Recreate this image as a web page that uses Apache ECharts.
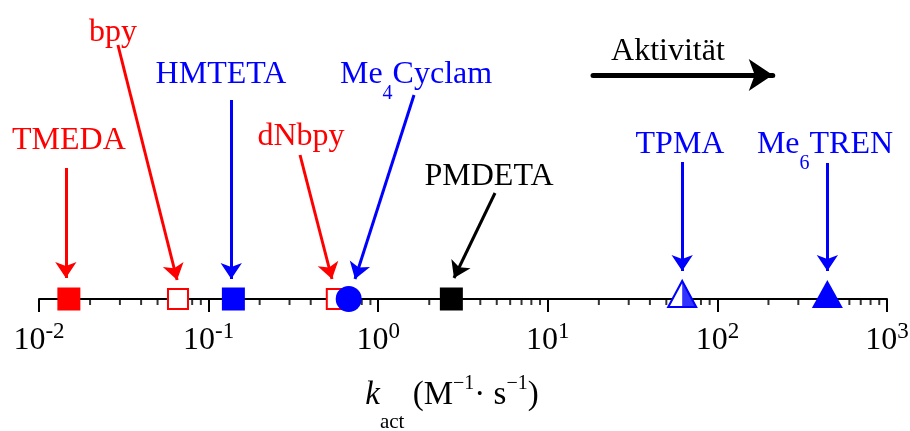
<!DOCTYPE html>
<html><head><meta charset="utf-8">
<script src="https://cdn.jsdelivr.net/npm/echarts@6/dist/echarts.min.js"></script>
<style>html,body{margin:0;padding:0;background:#fff}#c{width:910px;height:431px}</style>
</head><body><div id="c"></div>
<script>
// ---------------- data ----------------
const ligands = ['TMEDA', 'bpy', 'HMTETA', 'dNbpy', 'Me4Cyclam', 'PMDETA', 'TPMA', 'Me6TREN'];
const kact = [0.015, 0.066, 0.14, 0.57, 0.67, 2.7, 62, 445];
const tickExponents = [-2, -1, 0, 1, 2, 3];
const tickLabels = ['-2', '-1', '0', '1', '2', '3'];
const minorMantissas = [2, 3, 4, 5, 6, 7, 8, 9];
const minorDecades = [-2, -1, 0, 1, 2];
const activityText = 'Aktivität';

// ---------------- styles / layout ----------------
const RED = '#ff0000', BLUE = '#0000ff', BLACK = '#000000';
const FONT = '"Liberation Serif", "Times New Roman", serif';

const ligandColor = {TMEDA: RED, bpy: RED, HMTETA: BLUE, dNbpy: RED, Me4Cyclam: BLUE, PMDETA: BLACK, TPMA: BLUE, Me6TREN: BLUE};
const ligandRich = {
  TMEDA: '{m|TMEDA}', bpy: '{m|bpy}', HMTETA: '{m|HMTETA}', dNbpy: '{m|dNbpy}',
  Me4Cyclam: '{m|Me}{sub|4}{m|Cyclam}', PMDETA: '{m|PMDETA}', TPMA: '{m|TPMA}', Me6TREN: '{m|Me}{sub|6}{m|TREN}'
};
// label anchor: [x value, height above axis]
const labelPos = {
  TMEDA: [0.015, 158], bpy: [0.0273, 266], HMTETA: [0.1183, 224], dNbpy: [0.3506, 162],
  Me4Cyclam: [1.671, 224], PMDETA: [4.501, 122], TPMA: [60.2, 154], Me6TREN: [430.9, 154]
};
const activityPos = [51.1, 247];
// arrows: [start, tip]  (x value, height above axis)
const arrowPos = {
  TMEDA: [[0.0144, 131], [0.0144, 21]],
  bpy: [[0.0292, 254], [0.0652, 19]],
  HMTETA: [[0.136, 199], [0.136, 20]],
  dNbpy: [[0.346, 144], [0.534, 20]],
  Me4Cyclam: [[1.626, 204], [0.730, 20]],
  PMDETA: [[4.883, 106], [2.798, 21]],
  TPMA: [[62, 137], [62, 28]],
  Me6TREN: [[445, 136], [445, 28]]
};
const activityArrow = [[18.48, 224], [212, 224]];

const markerStyle = {
  TMEDA: {symbol: 'rect', size: 23, fill: RED},
  bpy: {symbol: 'rect', size: 20, fill: '#ffffff', border: RED},
  HMTETA: {symbol: 'rect', size: 23, fill: BLUE},
  dNbpy: {symbol: 'rect', size: 20, fill: '#ffffff', border: RED},
  Me4Cyclam: {symbol: 'circle', size: 26, fill: BLUE},
  PMDETA: {symbol: 'rect', size: 23, fill: BLACK},
  TPMA: {symbol: 'triangle', size: [28, 26], fill: '#ffffff', border: BLUE, offset: [0, -5]},
  Me6TREN: {symbol: 'triangle', size: [31, 28], fill: BLUE, offset: [0, -5]}
};

function labelRich(color) {
  return {
    m: {fontSize: 32, fontFamily: FONT, color: color, lineHeight: 40, height: 40, verticalAlign: 'top'},
    sub: {fontSize: 20, fontFamily: FONT, color: color, lineHeight: 2, height: 2, verticalAlign: 'bottom'}
  };
}

// ---------------- build ----------------
const series = [];

// minor ticks
const minorTicks = [];
minorDecades.forEach(d => minorMantissas.forEach(m => minorTicks.push([m * Math.pow(10, d), 0])));
series.push({
  type: 'scatter', data: minorTicks, symbol: 'rect', symbolSize: [2, 6], symbolOffset: [0, 3],
  itemStyle: {color: BLACK}, silent: true, clip: false, z: 1
});

// markers
ligands.forEach((name, i) => {
  const s = markerStyle[name];
  series.push({
    type: 'scatter', name: name, data: [[kact[i], 0]], symbol: s.symbol, symbolSize: s.size,
    symbolOffset: s.offset || [0, 0], clip: false, silent: true, z: 5 + i,
    itemStyle: {color: s.fill, borderColor: s.border || s.fill, borderWidth: s.border ? 2 : 0, opacity: 1}
  });
  if (name === 'TPMA') {
    series.push({
      type: 'scatter', data: [[kact[i], 0]], symbol: 'path://M0,0L10,20L0,20Z',
      symbolSize: [15, 28], symbolOffset: [7.5, -5], clip: false, silent: true, z: 20,
      itemStyle: {color: BLUE}
    });
  }
});

// arrows, grouped by colour
[RED, BLUE, BLACK].forEach(col => {
  const names = ligands.filter(n => ligandColor[n] === col);
  series.push({
    type: 'lines', coordinateSystem: 'cartesian2d', symbol: ['none', 'arrow'], symbolSize: 16,
    silent: true, z: 4,
    lineStyle: {color: col, width: 3, opacity: 1, curveness: 0},
    data: names.map(n => ({coords: arrowPos[n]}))
  });
});
series.push({
  type: 'lines', coordinateSystem: 'cartesian2d', symbol: ['none', 'arrow'], symbolSize: 24,
  silent: true, z: 4,
  lineStyle: {color: BLACK, width: 5, opacity: 1, curveness: 0, cap: 'round'},
  data: [{coords: activityArrow}]
});

// text labels
const labelData = ligands.map(n => ({
  value: labelPos[n],
  label: {show: true, position: 'inside', formatter: ligandRich[n], color: ligandColor[n],
          textBorderWidth: 0, opacity: 1, rich: labelRich(ligandColor[n])}
}));
labelData.push({
  value: activityPos,
  label: {show: true, position: 'inside', formatter: '{m|' + activityText + '}', color: BLACK,
          textBorderWidth: 0, opacity: 1, rich: labelRich(BLACK)}
});
series.push({
  type: 'scatter', data: labelData, symbol: 'circle', symbolSize: 1,
  itemStyle: {color: 'rgba(255,255,255,0)'}, silent: true, clip: false, z: 30
});

const chart = echarts.init(document.getElementById('c'), null, {renderer: 'canvas'});
chart.setOption({
  animation: false,
  backgroundColor: '#ffffff',
  grid: {left: 39, right: 23, top: 0, bottom: 132, containLabel: false, outerBoundsMode: 'none'},
  xAxis: {
    type: 'log', logBase: 10, min: 0.01, max: 1000, splitNumber: 5,
    axisLine: {show: true, onZero: false, lineStyle: {color: BLACK, width: 2}},
    axisTick: {show: true, inside: false, length: 13, lineStyle: {color: BLACK, width: 2}},
    splitLine: {show: false},
    axisLabel: {
      show: true, margin: 22, interval: 0, color: BLACK,
      formatter: function (v) {
        const e = Math.round(Math.log10(v));
        const idx = tickExponents.indexOf(e);
        return '{n|10}{s|' + (idx >= 0 ? tickLabels[idx] : e) + '}';
      },
      rich: {
        n: {fontSize: 32, fontFamily: FONT, lineHeight: 40, height: 40, verticalAlign: 'top', color: BLACK},
        s: {fontSize: 23, fontFamily: FONT, lineHeight: 22, height: 22, verticalAlign: 'top', color: BLACK}
      }
    }
  },
  yAxis: {type: 'value', min: 0, max: 299, show: false},
  graphic: [{
    type: 'text', x: 452, y: 375, silent: true,
    style: {
      text: '{k|k}{sub|act}{n| (M}{sup|\u22121}{n|\u00b7 s}{sup|\u22121}{n|)}',
      align: 'center', verticalAlign: 'top', fill: BLACK,
      rich: {
        k: {fontSize: 33, fontFamily: FONT, fontStyle: 'italic', fill: BLACK, lineHeight: 40, height: 40, verticalAlign: 'top'},
        n: {fontSize: 33, fontFamily: FONT, fill: BLACK, lineHeight: 40, height: 40, verticalAlign: 'top'},
        sub: {fontSize: 21, fontFamily: FONT, fill: BLACK, lineHeight: 94, height: 94, verticalAlign: 'top'},
        sup: {fontSize: 20, fontFamily: FONT, fill: BLACK, lineHeight: 18, height: 18, verticalAlign: 'top'}
      }
    }
  }],
  series: series
});
</script>
</body></html>
